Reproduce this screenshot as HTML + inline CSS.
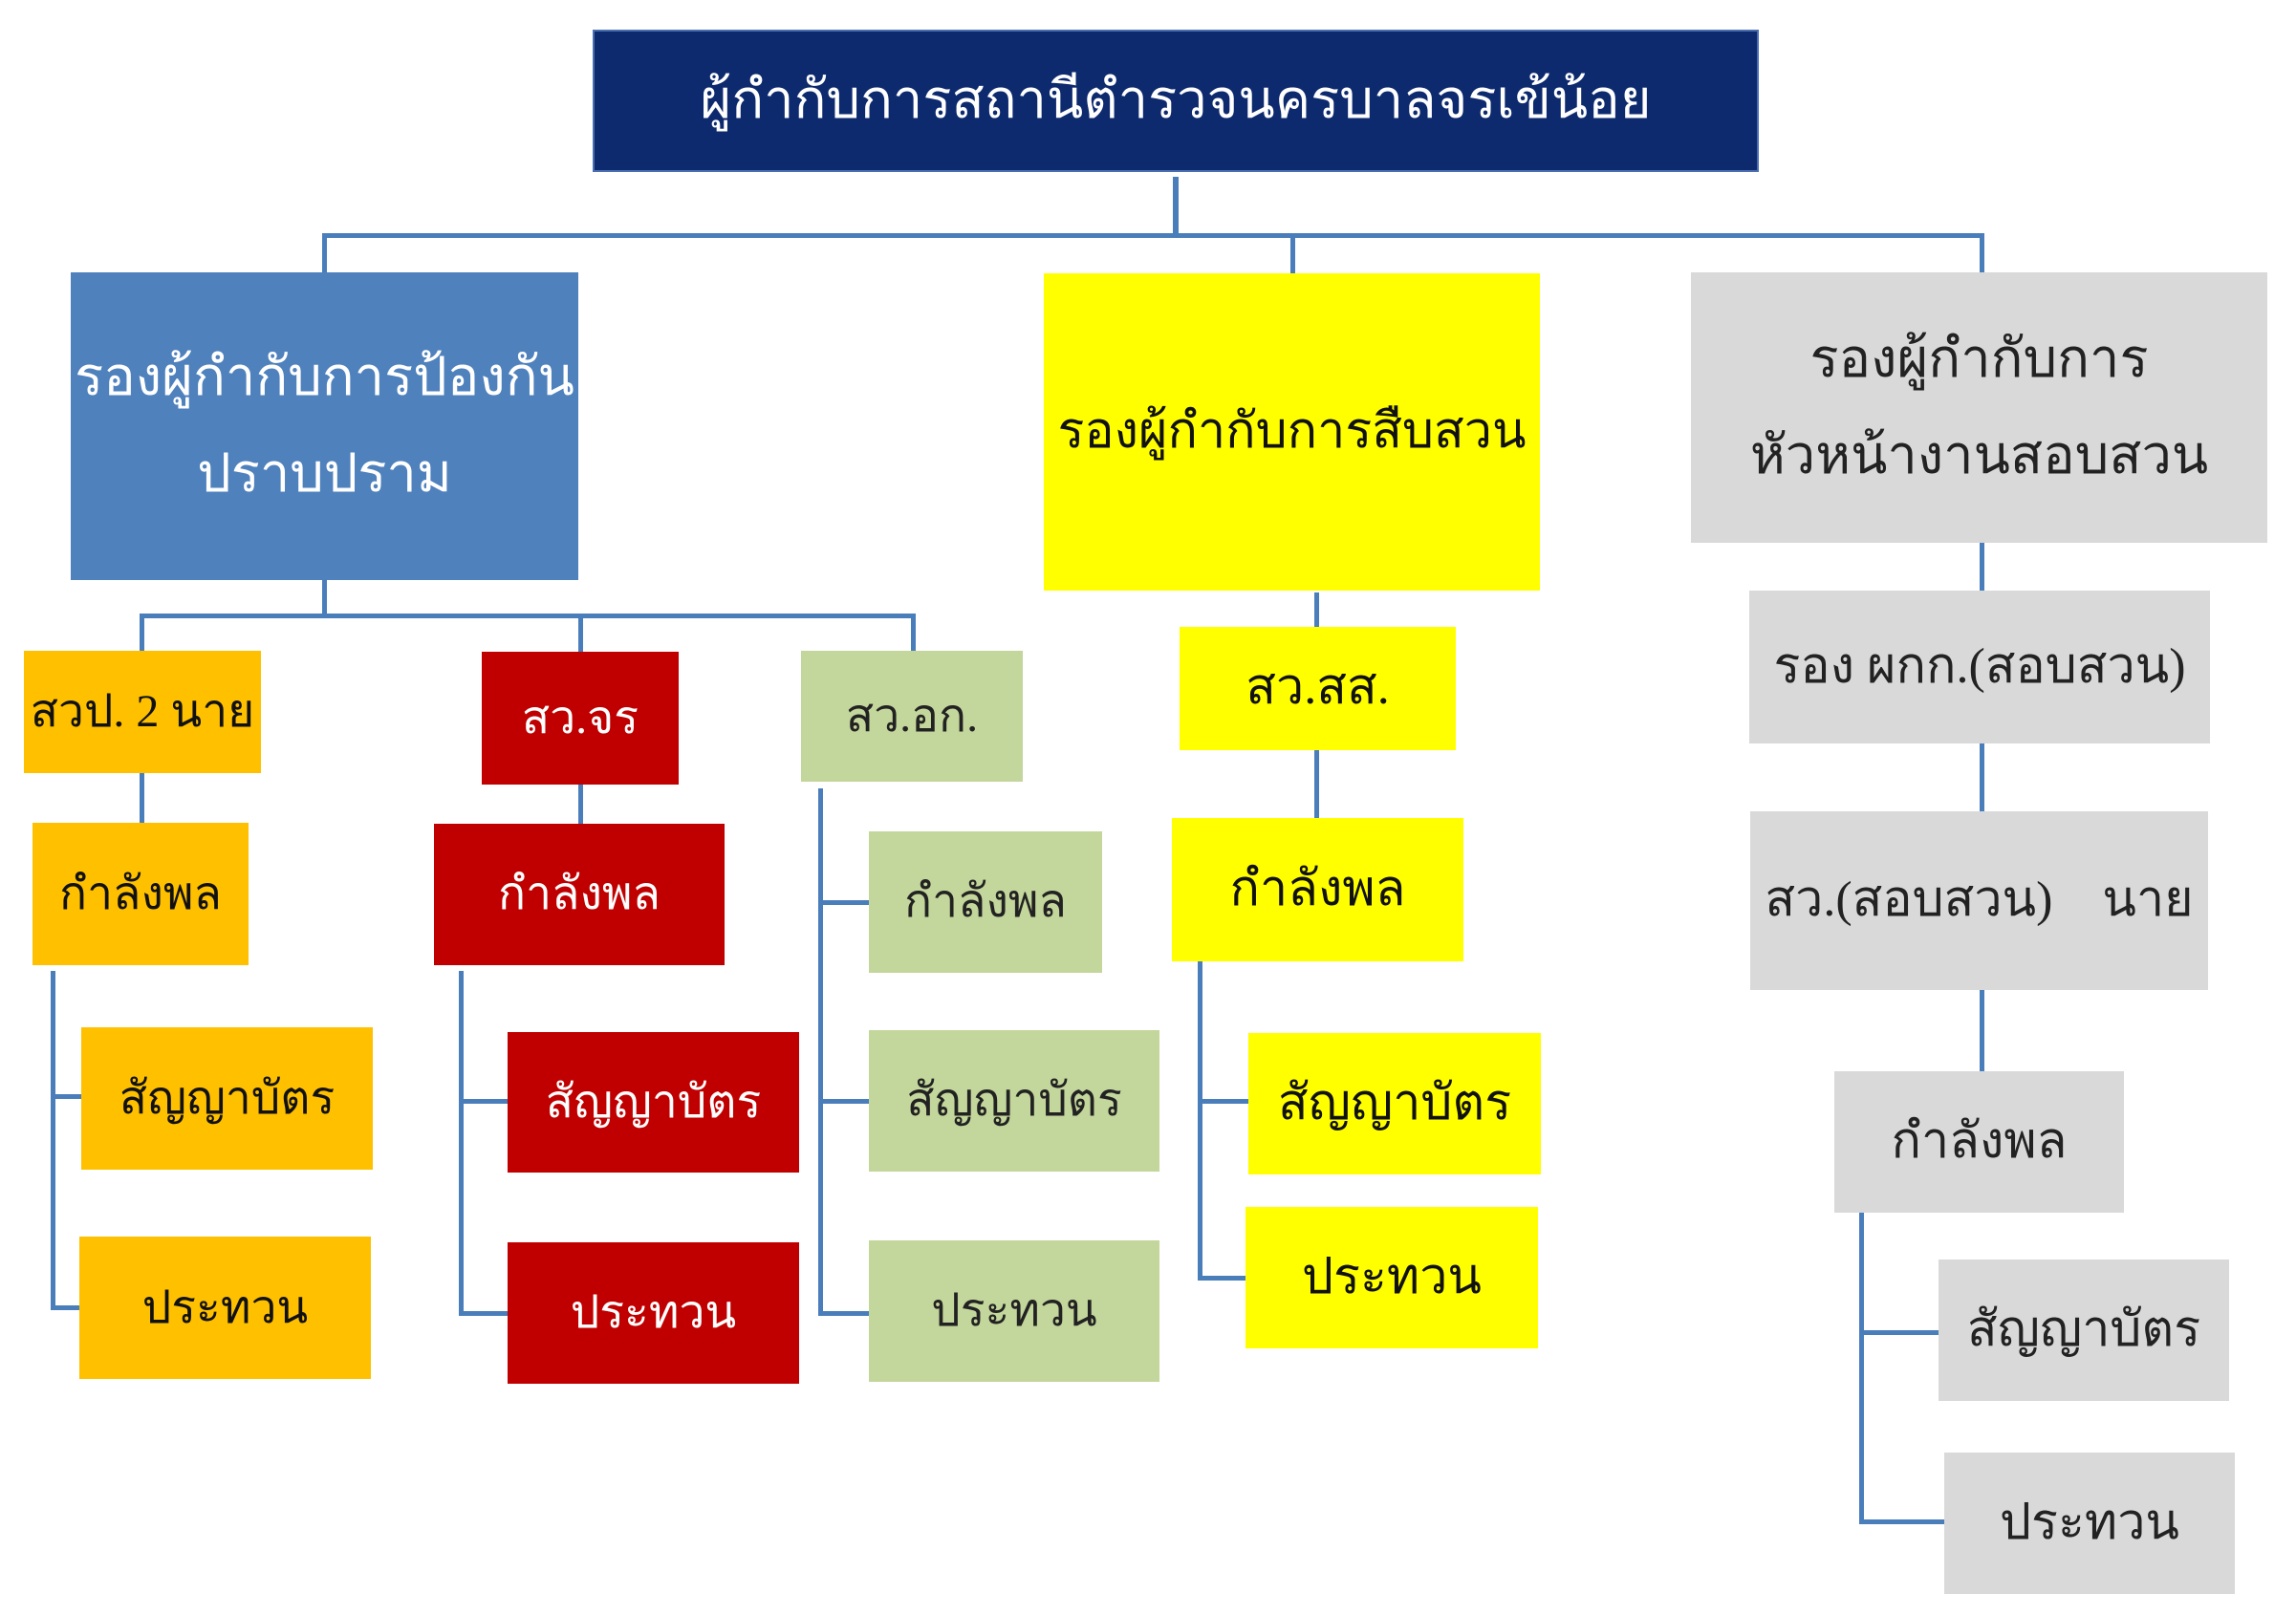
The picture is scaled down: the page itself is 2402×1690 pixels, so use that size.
<!DOCTYPE html>
<html><head><meta charset="utf-8"><style>
body{margin:0;width:2402px;height:1690px;background:#fff;position:relative;overflow:hidden;font-family:"Liberation Serif","DejaVu Serif",serif;}
.b{position:absolute;display:flex;align-items:center;justify-content:center;text-align:center;box-sizing:border-box;font-size:48px;line-height:1.9;}
.l{position:absolute;background:#4a7ebb;}
.o{background:#ffc000;color:#111}.r{background:#c00000;color:#fff}.g{background:#c3d69b;color:#222}.y{background:#ffff00;color:#111}.s{background:#d9d9d9;color:#222}
</style></head><body>
<div class="l" style="left:1227px;top:185px;width:6px;height:62px"></div>
<div class="l" style="left:337px;top:244px;width:1739px;height:5px"></div>
<div class="l" style="left:337px;top:244px;width:5px;height:42px"></div>
<div class="l" style="left:1350px;top:244px;width:5px;height:42px"></div>
<div class="l" style="left:2071px;top:244px;width:5px;height:42px"></div>

<div class="l" style="left:337px;top:607px;width:5px;height:38px"></div>
<div class="l" style="left:146px;top:642px;width:810px;height:5px"></div>
<div class="l" style="left:146px;top:642px;width:5px;height:40px"></div>
<div class="l" style="left:605px;top:642px;width:5px;height:40px"></div>
<div class="l" style="left:953px;top:642px;width:5px;height:40px"></div>

<div class="l" style="left:146px;top:809px;width:5px;height:52px"></div>
<div class="l" style="left:53px;top:1016px;width:5px;height:354px"></div>
<div class="l" style="left:53px;top:1145px;width:32px;height:5px"></div>
<div class="l" style="left:53px;top:1366px;width:32px;height:5px"></div>

<div class="l" style="left:605px;top:821px;width:5px;height:41px"></div>
<div class="l" style="left:480px;top:1016px;width:5px;height:360px"></div>
<div class="l" style="left:480px;top:1150px;width:51px;height:5px"></div>
<div class="l" style="left:480px;top:1372px;width:51px;height:5px"></div>

<div class="l" style="left:856px;top:825px;width:5px;height:551px"></div>
<div class="l" style="left:856px;top:942px;width:53px;height:5px"></div>
<div class="l" style="left:856px;top:1150px;width:53px;height:5px"></div>
<div class="l" style="left:856px;top:1372px;width:53px;height:5px"></div>

<div class="l" style="left:1375px;top:620px;width:5px;height:36px"></div>
<div class="l" style="left:1375px;top:785px;width:5px;height:71px"></div>
<div class="l" style="left:1253px;top:1006px;width:5px;height:333px"></div>
<div class="l" style="left:1253px;top:1150px;width:53px;height:5px"></div>
<div class="l" style="left:1253px;top:1335px;width:53px;height:5px"></div>

<div class="l" style="left:2071px;top:568px;width:5px;height:50px"></div>
<div class="l" style="left:2071px;top:778px;width:5px;height:71px"></div>
<div class="l" style="left:2071px;top:1036px;width:5px;height:85px"></div>
<div class="l" style="left:1945px;top:1269px;width:5px;height:325px"></div>
<div class="l" style="left:1945px;top:1392px;width:83px;height:5px"></div>
<div class="l" style="left:1945px;top:1590px;width:89px;height:5px"></div>

<div class="b" style="left:620px;top:31px;width:1220px;height:149px;background:#0e2a6e;color:#fff;font-size:56px;border:2px solid #4a6fb0">ผู้กำกับการสถานีตำรวจนครบาลจรเข้น้อย</div>
<div class="b" style="left:74px;top:285px;width:531px;height:322px;background:#4f81bd;color:#fff;font-size:56px;line-height:1.8">รองผู้กำกับการป้องกัน<br>ปราบปราม</div>
<div class="b y" style="left:1092px;top:286px;width:519px;height:332px;font-size:52px;white-space:nowrap">รองผู้กำกับการสืบสวน</div>
<div class="b s" style="left:1769px;top:285px;width:603px;height:283px;font-size:56px;line-height:1.8">รองผู้กำกับการ<br>หัวหน้างานสอบสวน</div>

<div class="b o" style="left:25px;top:681px;width:248px;height:128px">สวป. 2 นาย</div>
<div class="b r" style="left:504px;top:682px;width:206px;height:139px">สว.จร</div>
<div class="b g" style="left:838px;top:681px;width:232px;height:137px">สว.อก.</div>

<div class="b o" style="left:34px;top:861px;width:226px;height:149px">กำลังพล</div>
<div class="b o" style="left:85px;top:1075px;width:305px;height:149px">สัญญาบัตร</div>
<div class="b o" style="left:83px;top:1294px;width:305px;height:149px">ประทวน</div>

<div class="b r" style="left:454px;top:862px;width:304px;height:148px">กำลังพล</div>
<div class="b r" style="left:531px;top:1080px;width:305px;height:147px">สัญญาบัตร</div>
<div class="b r" style="left:531px;top:1300px;width:305px;height:148px">ประทวน</div>

<div class="b g" style="left:909px;top:870px;width:244px;height:148px">กำลังพล</div>
<div class="b g" style="left:909px;top:1078px;width:304px;height:148px">สัญญาบัตร</div>
<div class="b g" style="left:909px;top:1298px;width:304px;height:148px">ประทวน</div>

<div class="b y" style="left:1234px;top:656px;width:289px;height:129px;font-size:52px">สว.สส.</div>
<div class="b y" style="left:1226px;top:856px;width:305px;height:150px;font-size:52px">กำลังพล</div>
<div class="b y" style="left:1306px;top:1081px;width:306px;height:148px;font-size:52px">สัญญาบัตร</div>
<div class="b y" style="left:1303px;top:1263px;width:306px;height:148px;font-size:52px">ประทวน</div>

<div class="b s" style="left:1830px;top:618px;width:482px;height:160px;font-size:52px">รอง ผกก.(สอบสวน)</div>
<div class="b s" style="left:1831px;top:849px;width:479px;height:187px;font-size:52px">สว.(สอบสวน)&nbsp;&nbsp;&nbsp;&nbsp;นาย</div>
<div class="b s" style="left:1919px;top:1121px;width:303px;height:148px;font-size:52px">กำลังพล</div>
<div class="b s" style="left:2028px;top:1318px;width:304px;height:148px;font-size:52px">สัญญาบัตร</div>
<div class="b s" style="left:2034px;top:1520px;width:304px;height:148px;font-size:52px">ประทวน</div>
</body></html>
